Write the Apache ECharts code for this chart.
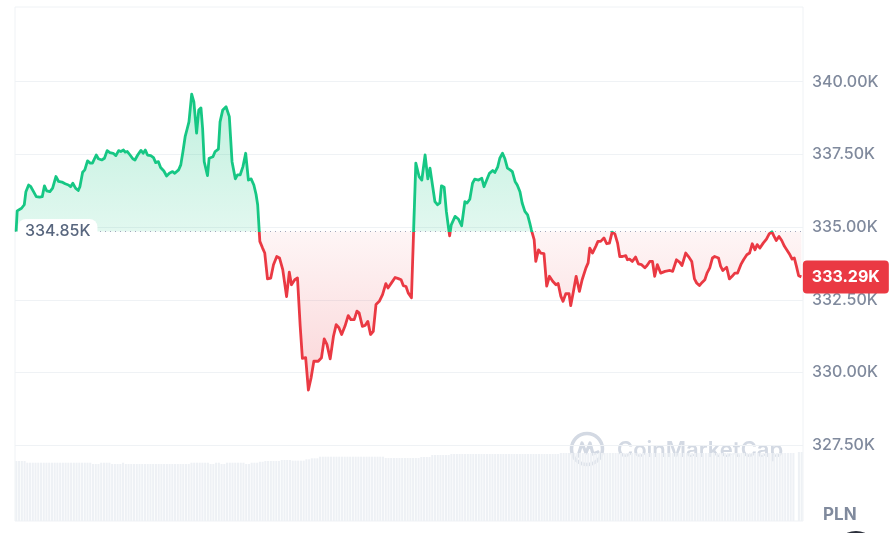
<!DOCTYPE html>
<html><head><meta charset="utf-8">
<script src="https://cdn.jsdelivr.net/npm/echarts@6/dist/echarts.min.js"></script>
<style>html,body{margin:0;padding:0;background:#fff}#c{width:891px;height:533px}</style>
</head><body><div id="c"></div>
<script>
// minutes since open (24h window)
const minutes = [
0,2,10,15,18,23,27,32,37,43,48,52,56,62,67,73,78,84,90,96,100,104,109,114,117,122,126,131,136,140,
147,151,157,162,167,172,178,183,188,192,197,200,204,209,214,218,223,229,233,237,241,247,252,256,261,265,271,276,281,287,
291,298,302,306,310,314,317,322,326,331,335,339,342,345,351,354,361,365,371,374,379,385,391,396,402,406,411,416,421,426,
431,436,440,443,447,452,456,461,467,472,478,483,489,496,501,505,511,516,521,525,531,536,541,546,554,560,565,570,576,582,
587,592,597,603,609,614,620,625,629,635,640,645,650,655,660,666,672,678,682,689,695,701,706,710,715,719,725,733,739,744,
750,755,759,764,768,773,777,780,785,789,793,795,798,805,811,817,820,823,827,832,837,841,848,854,858,863,868,874,878,883,
887,892,896,901,906,910,915,919,924,928,933,938,942,945,950,953,958,962,968,973,978,984,990,994,999,1003,1008,1014,1017,1022,
1027,1033,1038,1045,1049,1052,1057,1063,1067,1072,1078,1083,1088,1093,1098,1103,1107,1112,1118,1121,1125,1130,1136,1141,1147,1153,1157,1162,1167,1171,
1176,1182,1190,1199,1204,1211,1217,1221,1228,1233,1239,1244,1248,1253,1258,1263,1267,1272,1277,1281,1288,1292,1296,1303,1308,1313,1318,1323,1329,1334,
1340,1345,1350,1355,1359,1364,1370,1376,1381,1386,1390,1394,1399,1404,1409,1414,1419,1423,1427,1431,1435,1440
];
// price in thousands PLN
const prices = [
334.85,335.56,335.65,335.77,336.22,336.45,336.39,336.22,336.05,336.03,336.05,336.42,336.25,336.22,336.34,336.74,336.57,336.55,336.49,336.45,336.39,336.51,336.34,336.26,336.39,336.89,336.97,337.28,337.20,337.20,
337.48,337.35,337.31,337.37,337.63,337.56,337.54,337.46,337.63,337.60,337.65,337.58,337.60,337.48,337.35,337.31,337.48,337.64,337.54,337.65,337.48,337.46,337.39,337.22,337.25,337.05,336.93,336.76,336.85,336.91,
336.85,336.97,337.14,337.60,338.11,338.40,338.62,339.57,339.31,338.23,339.03,339.10,338.40,337.25,336.77,337.37,337.42,337.60,337.68,338.62,339.03,339.14,338.80,337.25,336.66,336.80,336.80,337.08,337.54,336.62,
336.66,336.45,336.13,335.77,334.51,334.28,334.11,333.22,333.25,333.71,333.99,333.94,333.54,332.61,333.45,333.02,333.19,333.25,331.59,330.49,330.51,329.40,329.82,330.39,330.39,330.51,331.16,330.97,330.47,331.25,
331.65,331.54,331.31,331.59,331.96,331.82,331.82,332.11,332.05,331.59,331.62,331.76,331.31,331.42,332.34,332.45,332.68,333.06,332.91,333.10,333.27,333.23,333.19,332.99,332.96,332.74,332.57,337.20,336.74,336.62,
337.48,336.66,337.03,336.39,335.88,335.77,335.83,336.42,336.37,335.54,334.97,334.70,335.08,335.37,335.28,335.05,335.02,335.88,335.83,335.96,336.51,336.65,336.62,336.68,336.39,336.62,336.85,336.95,336.88,337.06,
337.37,337.54,337.37,337.03,336.97,336.91,336.57,336.45,336.22,335.83,335.54,335.42,335.14,334.90,334.57,333.82,334.22,334.11,334.09,332.97,333.31,333.14,333.02,333.06,332.62,332.45,332.71,332.71,332.30,332.79,
333.31,332.79,333.19,333.60,333.77,334.28,334.11,334.34,334.51,334.51,334.63,334.43,334.45,334.83,334.77,334.45,333.99,333.99,334.02,333.88,333.90,333.82,333.97,333.74,333.71,333.60,333.68,333.82,333.82,333.31,
333.71,333.42,333.48,333.51,333.48,333.88,333.79,333.68,334.11,333.99,333.82,333.22,333.08,332.99,333.10,333.19,333.42,333.60,333.94,333.99,333.94,333.65,333.51,333.62,333.22,333.31,333.42,333.42,333.71,333.88,
334.05,334.11,334.43,334.22,334.40,334.28,334.45,334.59,334.77,334.84,334.68,334.54,334.68,334.54,334.34,334.20,334.05,333.90,333.94,333.65,333.33,333.29
];
const openPrice = 334.85;
const lastPrice = 333.29;
const yTicks = [327.5, 330, 332.5, 335, 337.5, 340];
const currency = 'PLN';
// relative 24h volume per 5-minute step
const volumes = [
11.67,11.67,11.67,11.67,
11.34,11.34,11.34,11.34,11.34,11.34,11.34,11.34,11.34,11.34,11.34,11.34,
11.34,11.34,11.34,11.34,11.34,11.34,11.34,11.34,11.34,11.34,11.34,11.34,
11.09,11.09,11.09,
11.34,11.34,11.34,11.34,
11.09,11.09,11.09,11.09,
11.34,
11.09,11.09,11.09,11.09,11.09,11.09,11.09,11.09,11.09,11.09,11.09,11.09,
11.09,11.09,11.09,11.09,11.09,11.09,11.09,11.09,11.09,11.09,11.09,11.09,
11.34,11.34,11.34,11.34,11.34,11.34,11.34,
11.09,11.09,
11.34,11.34,
11.09,11.09,
11.34,11.34,11.34,11.34,11.34,11.34,11.34,
11.09,11.09,
11.34,11.34,11.34,
11.53,11.53,
11.67,11.67,11.67,11.67,11.67,11.67,
11.87,11.87,11.87,11.87,
11.74,11.74,11.74,11.74,11.74,
12.00,12.00,
12.20,12.20,12.20,
12.51,12.51,12.51,12.51,12.51,12.51,12.51,12.51,12.51,12.51,12.51,12.51,
12.51,12.51,12.51,12.51,12.51,12.51,12.51,12.51,12.51,12.51,12.51,12.51,
12.26,12.26,12.26,12.26,12.26,12.26,12.26,12.26,12.26,12.26,12.26,12.26,12.26,
12.45,12.45,12.45,12.45,
12.84,12.84,12.84,12.84,12.84,12.84,12.84,
13.04,13.04,13.04,13.04,13.04,13.04,13.04,13.04,13.04,13.04,
13.04,13.04,13.04,13.04,13.04,13.04,13.04,13.04,13.04,13.04,
13.04,13.04,13.04,13.04,13.04,13.04,13.04,13.04,13.04,13.04,
13.04,13.04,13.04,13.04,13.04,13.04,13.04,13.04,13.04,13.04,
13.23,13.23,13.23,13.23,13.23,13.23,13.23,13.23,13.23,13.23,
13.23,13.23,13.23,13.23,13.23,13.23,13.23,13.23,13.23,13.23,
13.23,13.23,13.23,13.23,13.23,13.23,13.23,13.23,13.23,13.23,
13.23,13.23,13.23,13.23,13.23,13.23,13.23,13.23,13.23,13.23,
13.23,13.23,13.23,13.23,13.23,13.23,13.23,13.23,13.23,13.23,
13.23,13.23,13.23,13.23,13.23,13.23,13.23,13.23,13.23,13.23,
13.23,13.23,13.23,13.23,13.23,13.23,13.23,13.23,13.23,13.23,
13.23,13.23,13.23,13.23,13.23,13.23,13.23,13.23,13.23,13.23,
13.23,13.23,13.23,13.23,13.23,13.23,
0,
13.42,13.42
];

const GREEN = '#16c784', RED = '#ea3943';
const FONT = 'Inter, "Noto Sans", sans-serif';
const Y_MIN = 325, Y_MAX = 342.5;
const line = minutes.map((m, i) => [m, prices[i]]);
const upper = minutes.map((m, i) => [m, Math.max(prices[i], openPrice)]);
const lower = minutes.map((m, i) => [m, Math.min(prices[i], openPrice)]);
const lastMinute = minutes[minutes.length - 1];

const chart = echarts.init(document.getElementById('c'));
chart.setOption({
  animation: false,
  backgroundColor: '#fff',
  grid: [
    {left: 15, right: 88, top: 9, bottom: 15},
    {left: 15, right: 88, top: 7, bottom: 12, show: true, borderColor: '#eff2f5', borderWidth: 1}
  ],
  xAxis: [
    {gridIndex: 0, type: 'value', min: -2, max: 1443, show: false},
    {gridIndex: 1, type: 'category', data: volumes.map((_, i) => i), show: false}
  ],
  yAxis: [
    {gridIndex: 0, type: 'value', position: 'right', min: Y_MIN, max: Y_MAX, interval: 2.5,
     axisLine: {show: false}, axisTick: {show: false},
     splitLine: {show: true, showMinLine: false, showMaxLine: false, lineStyle: {color: '#eff2f5', width: 1}},
     axisLabel: {showMinLabel: false, showMaxLabel: false, margin: 9, color: '#808a9d', fontSize: 16,
       fontWeight: 500, fontFamily: FONT,
       formatter: v => yTicks.some(t => Math.abs(t - v) < 1e-6) ? v.toFixed(2) + 'K' : ''}},
    {gridIndex: 1, type: 'value', min: 0, max: 100, show: false}
  ],
  series: [
    {type: 'bar', xAxisIndex: 1, yAxisIndex: 1, data: volumes, barCategoryGap: '25%', silent: true,
     itemStyle: {color: '#eef1f5'}},
    {type: 'line', xAxisIndex: 0, yAxisIndex: 0, data: upper, symbol: 'none', silent: true,
     lineStyle: {width: 0, opacity: 0},
     areaStyle: {origin: openPrice, color: new echarts.graphic.LinearGradient(0, 0, 0, 1, [
       {offset: 0, color: 'rgba(22,199,132,0.38)'}, {offset: 1, color: 'rgba(22,199,132,0.18)'}])}},
    {type: 'line', xAxisIndex: 0, yAxisIndex: 0, data: lower, symbol: 'none', silent: true,
     lineStyle: {width: 0, opacity: 0},
     areaStyle: {origin: openPrice, color: new echarts.graphic.LinearGradient(0, 0, 0, 1, [
       {offset: 0, color: 'rgba(234,57,67,0.07)'}, {offset: 1, color: 'rgba(234,57,67,0.30)'}])}},
    {id: 'price', type: 'line', xAxisIndex: 0, yAxisIndex: 0, data: line, symbol: 'none', silent: true, z: 5,
     lineStyle: {width: 2.8, color: GREEN, join: 'round'},
     markLine: {silent: true, symbol: 'none', label: {show: false}, animation: false,
       lineStyle: {color: '#a1a7bb', type: [1, 4], width: 1},
       data: [{yAxis: openPrice}]},
     markPoint: {silent: true, symbol: 'circle', symbolSize: 0, animation: false,
       data: [
         {coord: [-2, openPrice], label: {show: true, position: 'right', distance: 3,
           formatter: openPrice.toFixed(2) + 'K', backgroundColor: '#fff', borderRadius: 8,
           padding: [5, 7, 4, 7], color: '#58667e', fontSize: 16, fontWeight: 500, fontFamily: FONT}},
         {coord: [lastMinute, lastPrice], label: {show: true, position: 'right', distance: 1.5,
           formatter: lastPrice.toFixed(2) + 'K', backgroundColor: RED, borderRadius: 4,
           padding: [9, 9, 8, 9], color: '#fff', fontWeight: 'bold', fontSize: 16, fontFamily: FONT}}
       ]}}
  ],
  graphic: [
    {type: 'group', z: 10, silent: true, children: [
      {type: 'circle', shape: {cx: 587, cy: 449, r: 15.5}, style: {fill: 'none', stroke: '#d3d9e3', lineWidth: 3.5}},
      {type: 'polyline', shape: {points: [[578, 456], [582, 443], [586, 453], [590, 443], [593, 454], [598, 452]]},
       style: {fill: 'none', stroke: '#d3d9e3', lineWidth: 3.2, lineJoin: 'round', lineCap: 'round'}},
      {type: 'text', x: 617, y: 450, style: {text: 'CoinMarketCap', fontSize: 22, fontWeight: 600,
        fontFamily: FONT, fill: '#d3d9e3', verticalAlign: 'middle'}}
    ]},
    {type: 'text', x: 823, y: 515, silent: true, style: {text: currency, fontSize: 17, fontWeight: 'bold',
      fontFamily: FONT, fill: '#808a9d', verticalAlign: 'middle'}},
    {type: 'circle', silent: true, shape: {cx: 856, cy: 554, r: 23}, style: {fill: '#2b2f3a'}}
  ]
});

// split the price line colour at the opening price, using the axis scale
const yTop = chart.convertToPixel({yAxisIndex: 0}, Y_MAX);
const yBot = chart.convertToPixel({yAxisIndex: 0}, Y_MIN);
const yBase = chart.convertToPixel({yAxisIndex: 0}, openPrice);
const f = (yBase - yTop) / (yBot - yTop);
chart.setOption({series: [{id: 'price', lineStyle: {color: new echarts.graphic.LinearGradient(0, yTop, 0, yBot, [
  {offset: 0, color: GREEN}, {offset: f, color: GREEN}, {offset: f, color: RED}, {offset: 1, color: RED}], true)}}]});
</script>
</body></html>
